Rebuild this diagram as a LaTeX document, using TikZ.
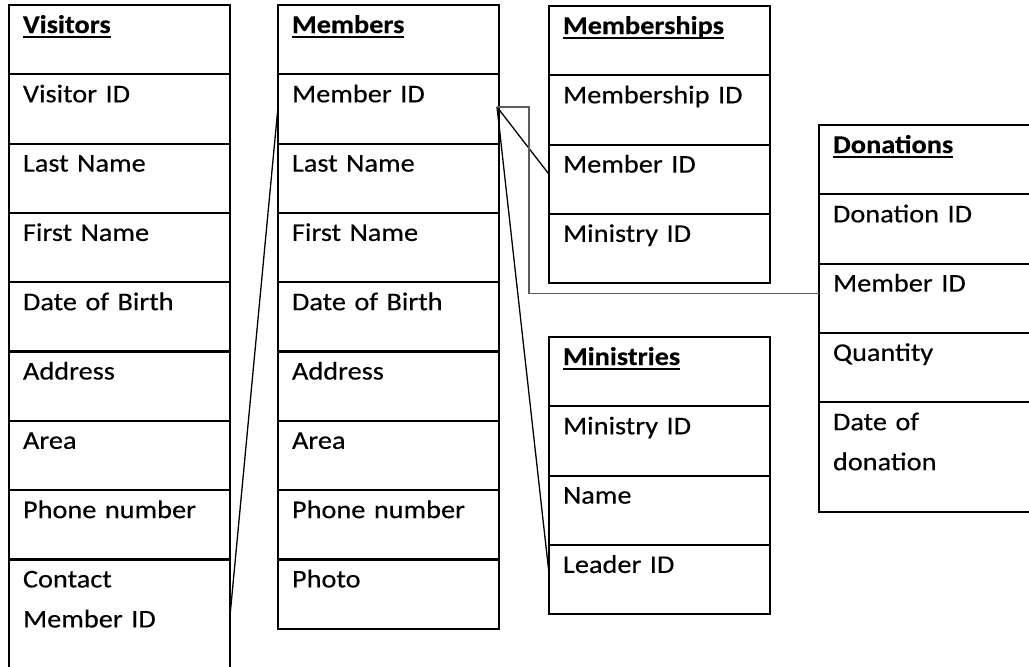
\documentclass[tikz,border=0pt]{standalone}
\usepackage{fontspec}
\setmainfont{Carlito}[FakeStretch=1.11,FakeBold=0.3]
\usepackage{tikz}
\usetikzlibrary{positioning}
\definecolor{tinta}{HTML}{000000}
\definecolor{tenue}{HTML}{5C5C5C}
\newcommand{\titulo}[1]{\setbox0\hbox{\bfseries #1}\rlap{\rule[-4.5pt]{\wd0}{2pt}}\box0}
\tikzset{
  fila/.style={draw=tinta,line width=2.2pt,outer sep=0pt,inner xsep=14pt,inner ysep=0pt,text width=193pt,align=left,
    text height=28pt,text depth=41.3pt,font=\fontsize{25.5}{40}\selectfont},
  enlace/.style={draw=tinta,line width=1.3pt},
}
\begin{document}
\begin{tikzpicture}[x=1pt,y=-1pt]
  \path[use as bounding box,fill=white] (0,0) rectangle (1029,667);
  \clip (0,0) rectangle (1029,667);
  % Visitors
  \node[fila,anchor=north west] (vis0) at (9,5) {\titulo{Visitors}};
  \node[fila,below=0pt of vis0] (vis1) {Visitor ID};
  \node[fila,below=0pt of vis1] (vis2) {Last Name};
  \node[fila,below=0pt of vis2] (vis3) {First Name};
  \node[fila,below=0pt of vis3] (vis4) {Date of Birth};
  \node[fila,below=0pt of vis4] (vis5) {Address};
  \node[fila,below=0pt of vis5] (vis6) {Area};
  \node[fila,below=0pt of vis6] (vis7) {Phone number};
  \node[fila,below=0pt of vis7,text depth=85pt] (vis8) {Contact\\Member ID};
  % Members
  \node[fila,anchor=north west] (mem0) at (278,5) {\titulo{Members}};
  \node[fila,below=0pt of mem0] (mem1) {Member ID};
  \node[fila,below=0pt of mem1] (mem2) {Last Name};
  \node[fila,below=0pt of mem2] (mem3) {First Name};
  \node[fila,below=0pt of mem3] (mem4) {Date of Birth};
  \node[fila,below=0pt of mem4] (mem5) {Address};
  \node[fila,below=0pt of mem5] (mem6) {Area};
  \node[fila,below=0pt of mem6] (mem7) {Phone number};
  \node[fila,below=0pt of mem7] (mem8) {Photo};
  % Memberships
  \node[fila,anchor=north west] (msh0) at (549,6) {\titulo{Memberships}};
  \node[fila,below=0pt of msh0] (msh1) {Membership ID};
  \node[fila,below=0pt of msh1] (msh2) {Member ID};
  \node[fila,below=0pt of msh2] (msh3) {Ministry ID};
  % Ministries
  \node[fila,anchor=north west] (min0) at (549,337) {\titulo{Ministries}};
  \node[fila,below=0pt of min0] (min1) {Ministry ID};
  \node[fila,below=0pt of min1] (min2) {Name};
  \node[fila,below=0pt of min2] (min3) {Leader ID};
  % Donations
  \node[fila,anchor=north west] (don0) at (819,125) {\titulo{Donations}};
  \node[fila,below=0pt of don0] (don1) {Donation ID};
  \node[fila,below=0pt of don1] (don2) {Member ID};
  \node[fila,below=0pt of don2] (don3) {Quantity};
  \node[fila,below=0pt of don3,text depth=82pt] (don4) {Date of\\donation};
  % links
  \coordinate (eje) at ([xshift=-2pt,yshift=2pt]mem1.east);
  \draw[enlace] (vis8.east) -- ([yshift=2pt]mem1.west);
  \draw[enlace] (eje) -- ([yshift=5pt]msh2.west);
  \draw[enlace] (eje) -- ([yshift=6pt]min3.west);
  \draw[enlace,draw=tenue] (eje) -- ++(32,0) |- ([yshift=5pt]don2.west);
\end{tikzpicture}
\end{document}
